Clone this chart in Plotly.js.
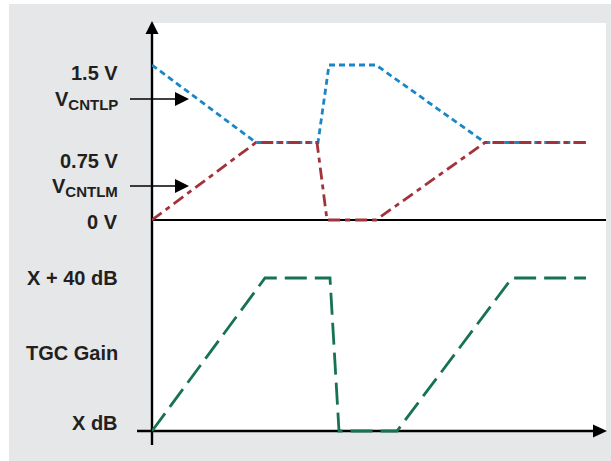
<!DOCTYPE html>
<html>
<head>
<meta charset="utf-8">
<script src="https://cdn.plot.ly/plotly-3.0.1.min.js"></script>
<style>html,body{margin:0;padding:0;background:#fff;}#chart{width:611px;height:461px;}</style>
</head>
<body>
<div id="chart"></div>
<script>
// ---- data (time in arbitrary units) ----
const timeP = [0, 104, 166, 177, 224, 333, 434];
const vcntlp = [1.5, 0.75, 0.75, 1.5, 1.5, 0.75, 0.75];
const timeM = [0, 104, 165, 175, 224, 333, 434];
const vcntlm = [0, 0.75, 0.75, 0, 0, 0.75, 0.75];
const timeG = [0, 113, 178, 187, 245, 360, 434];
const gain = [0, 40, 40, 0, 0, 40, 40];

const voltTicks = [1.5, 0.75, 0];
const voltLabels = ['1.5 V', '0.75 V', '0 V'];
const gainTicks = [40, 0];
const gainLabels = ['X + 40 dB', 'X dB'];
const signalLabels = ['V<sub>CNTLP</sub>', 'V<sub>CNTLM</sub>'];
const gainTitle = 'TGC Gain';

// ---- layout geometry ----
const W = 611, H = 461, L = 152, R = 5, T = 23, B = 16;
const PW = W - L - R, PH = H - T - B;
const px = x => (x - L) / PW;
const py = y => (H - B - y) / PH;
const pt = (x, y) => px(x).toFixed(5) + ',' + py(y).toFixed(5);
const tri = (a, b, c) => 'M' + pt(a[0], a[1]) + 'L' + pt(b[0], b[1]) + 'L' + pt(c[0], c[1]) + 'Z';

const FONT = 'Liberation Sans, Arial, Helvetica, sans-serif';
const TXT = '#231f20';

const traces = [
  {x: timeP, y: vcntlp, xaxis: 'x', yaxis: 'y', mode: 'lines', name: 'VCNTLP',
   line: {color: '#1a86c8', width: 2.8, dash: '6px,4px'}},
  {x: timeM, y: vcntlm, xaxis: 'x', yaxis: 'y', mode: 'lines', name: 'VCNTLM',
   line: {color: '#a3323a', width: 2.8, dash: '12px,5px,5px,5px'}},
  {x: timeG, y: gain, xaxis: 'x', yaxis: 'y2', mode: 'lines', name: 'TGC Gain',
   line: {color: '#16734f', width: 2.8, dash: '22px,8px'}}
];

const annotations = [];
const labelShift = [-8, -18, -2];
voltTicks.forEach((v, i) => annotations.push({
  xref: 'paper', yref: 'y', x: px(120), y: v, yshift: labelShift[i],
  xanchor: 'right', yanchor: 'middle', showarrow: false,
  text: '<b>' + voltLabels[i] + '</b>', font: {family: FONT, size: 20, color: TXT}
}));
const gainShift = [0, 8];
gainTicks.forEach((g, i) => annotations.push({
  xref: 'paper', yref: 'y2', x: px(120), y: g, yshift: gainShift[i],
  xanchor: 'right', yanchor: 'middle', showarrow: false,
  text: '<b>' + gainLabels[i] + '</b>', font: {family: FONT, size: 20, color: TXT}
}));
const sigY = [99, 186];
signalLabels.forEach((t, i) => annotations.push({
  xref: 'paper', yref: 'paper', x: px(120), y: py(sigY[i] + 1),
  xanchor: 'right', yanchor: 'middle', showarrow: false,
  text: '<b>' + t.replace('<sub>', '<sub><span style="font-size:15px">').replace('</sub>', '</span></sub>') + '</b>',
  font: {family: FONT, size: 20, color: TXT}
}));
annotations.push({
  xref: 'paper', yref: 'paper', x: px(120), y: py(353),
  xanchor: 'right', yanchor: 'middle', showarrow: false,
  text: '<b>' + gainTitle + '</b>', font: {family: FONT, size: 20, color: TXT}
});

const shapes = [
  {type: 'rect', xref: 'paper', yref: 'paper', x0: px(9), x1: px(611), y0: py(461), y1: py(4),
   fillcolor: '#e6e7e9', line: {width: 0}, layer: 'below'},
  {type: 'rect', xref: 'paper', yref: 'paper', x0: px(152), x1: px(606), y0: py(431), y1: py(23),
   fillcolor: '#ffffff', line: {width: 0}, layer: 'below'},
  // 0 V separator
  {type: 'line', xref: 'paper', yref: 'y', x0: px(152), x1: px(606), y0: 0, y1: 0,
   line: {color: '#000', width: 1.8}, layer: 'below'},
  // y axis line
  {type: 'line', xref: 'paper', yref: 'paper', x0: px(152), x1: px(152), y0: py(445), y1: py(30),
   line: {color: '#000', width: 2.4}, layer: 'below'},
  // x axis line
  {type: 'line', xref: 'paper', yref: 'paper', x0: px(137), x1: px(598), y0: py(431), y1: py(431),
   line: {color: '#000', width: 2.4}, layer: 'below'},
  // arrowheads
  {type: 'path', xref: 'paper', yref: 'paper', path: tri([152, 21], [145.5, 34], [158.5, 34]),
   fillcolor: '#000', line: {width: 0}},
  {type: 'path', xref: 'paper', yref: 'paper', path: tri([607, 431], [593, 424.5], [593, 437.5]),
   fillcolor: '#000', line: {width: 0}}
];
sigY.forEach(y => {
  shapes.push({type: 'line', xref: 'paper', yref: 'paper', x0: px(130), x1: px(177), y0: py(y), y1: py(y),
    line: {color: '#000', width: 1.6}});
  shapes.push({type: 'path', xref: 'paper', yref: 'paper', path: tri([189, y], [175, y - 7], [175, y + 7]),
    fillcolor: '#000', line: {width: 0}});
});

const hidden = {visible: false, showgrid: false, zeroline: false, showticklabels: false, showline: false, ticks: ''};
const layout = {
  width: W, height: H,
  margin: {l: L, r: R, t: T, b: B, pad: 0},
  paper_bgcolor: '#ffffff', plot_bgcolor: 'rgba(0,0,0,0)',
  showlegend: false,
  xaxis: Object.assign({range: [0, PW], domain: [0, 1]}, hidden),
  yaxis: Object.assign({range: [-(H - B - 220) / 103.33, 1.5 + (65 - T) / 103.33]}, hidden),
  yaxis2: Object.assign({overlaying: 'y', range: [-(H - B - 431) / 3.825, (431 - T) / 3.825]}, hidden),
  shapes: shapes,
  annotations: annotations
};

Plotly.newPlot('chart', traces, layout, {staticPlot: true, displayModeBar: false});
</script>
</body>
</html>
